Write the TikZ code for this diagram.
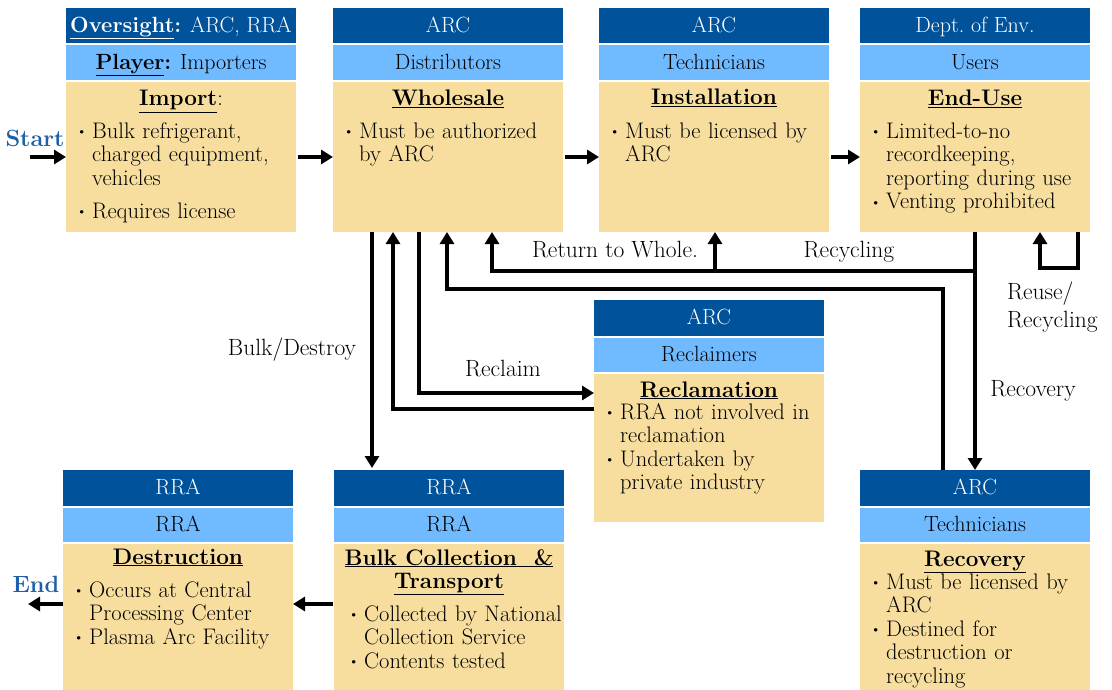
\documentclass[tikz,border=0pt]{standalone}
\usepackage{fontspec}
\usetikzlibrary{arrows.meta}

\definecolor{agencyblue}{RGB}{0,82,155}
\definecolor{roleblue}{RGB}{112,186,255}
\definecolor{notetan}{RGB}{247,222,158}
\definecolor{flowblue}{RGB}{30,95,168}

\newcommand\txtfont{\fontsize{22.5}{23.5}\selectfont}
\newcommand\hdrfont{\fontsize{22}{24}\selectfont}
\newcommand\lblfont{\fontsize{23.5}{26}\selectfont}
% one bullet item with hanging indent
\newcommand\bul[1]{\par\noindent\hangindent=18pt\hangafter=1\makebox[18pt][l]{\hspace{2pt}\raisebox{1.5pt}{\scalebox{0.7}{\textbullet}}}\strut#1\par}
% the three stacked cells of a stage: agency, role, notes
\newcommand\stagecells[6]{%
  \node[agencycell] (#1-h) at (#2,#3) {#5};
  \node[rolecell] (#1-r) at (#2,#3+37.5) {#6};
  \node[notecell, minimum height=#4pt] (#1-b) at (#2,#3+74) {};
}

\begin{document}
\begin{tikzpicture}[x=1pt,y=-1pt,
  cell/.style={anchor=north west, minimum width=230pt, inner sep=0pt, outer sep=0pt, draw=none,
               font=\hdrfont, text height=17pt, text depth=3pt},
  agencycell/.style={cell, fill=agencyblue, text=white, minimum height=35.5pt},
  rolecell/.style={cell, fill=roleblue, text=black, minimum height=34.5pt},
  notecell/.style={cell, fill=notetan},
  heading/.style={inner sep=0pt, font=\txtfont, text height=17pt, text depth=3pt},
  notes/.style={anchor=north west, inner sep=0pt, text width=222pt, font=\txtfont,
                execute at begin node={\raggedright}},
  lbl/.style={inner sep=0pt, font=\lblfont, text height=17pt, text depth=3pt},
  flowlbl/.style={lbl, font=\lblfont\bfseries, text=flowblue},
  flow/.style={line width=4pt, -{Triangle[width=14pt,length=12pt]}},
]
\useasboundingbox (0,0) rectangle (1112,690);

% ---- stages ----
\stagecells{b1}{66}{8}{150}{\underline{\textbf{Oversight}}\textbf{:} ARC, RRA}{\underline{\textbf{Player}}\textbf{:} Importers}
\stagecells{b2}{333}{8}{150}{ARC}{Distributors}
\stagecells{b3}{599}{8}{150}{ARC}{Technicians}
\stagecells{b4}{860}{8}{150}{Dept.\ of Env.}{Users}
\stagecells{b5}{594}{300}{148}{ARC}{Reclaimers}
\stagecells{b6}{63}{470}{146}{RRA}{RRA}
\stagecells{b7}{334}{470}{146}{RRA}{RRA}
\stagecells{b8}{860}{470}{146}{ARC}{Technicians}

% ---- headings ----
\node[heading] (b1-t) at (181,99) {\underline{\textbf{Import}}:};
\node[heading] (b2-t) at (448,99) {\underline{\textbf{Wholesale}}};
\node[heading] (b3-t) at (714,98) {\underline{\textbf{Installation}}};
\node[heading] (b4-t) at (975,99) {\underline{\textbf{End-Use}}};
\node[heading] (b5-t) at (709,390) {\underline{\textbf{Reclamation}}};
\node[heading] (b6-t) at (178,557) {\underline{\textbf{Destruction}}};
\node[heading] (b7-t) at (449,558) {\underline{\textbf{Bulk Collection~ \&}}};
\node[heading] (b7-t2) at (449,581) {\underline{\textbf{Transport}}};
\node[heading] (b8-t) at (975,559) {\underline{\textbf{Recovery}}};

% ---- notes ----
\node[notes] (b1-n) at (74,114.5) {\bul{Bulk refrigerant,\newline charged equipment,\newline vehicles}\vspace{9.5pt}\bul{Requires license}};
\node[notes] (b2-n) at (341,114.5) {\bul{Must be authorized\newline by ARC}};
\node[notes] (b3-n) at (607,114.5) {\bul{Must be licensed by\newline ARC}};
\node[notes] (b4-n) at (868,114.5) {\bul{Limited-to-no\newline recordkeeping,\newline reporting during use}\bul{Venting prohibited}};
\node[notes] (b5-n) at (602,395.5) {\bul{RRA not involved in\newline reclamation}\bul{Undertaken by\newline private industry}};
\node[notes] (b6-n) at (71,573.5) {\bul{Occurs at Central\newline Processing Center}\bul{Plasma Arc Facility}};
\node[notes] (b7-n) at (346,597.5) {\bul{Collected by National\newline Collection Service}\bul{Contents tested}};
\node[notes] (b8-n) at (868,565.5) {\bul{Must be licensed by\newline ARC}\bul{Destined for\newline destruction or\newline recycling}};

% ---- flow labels ----
\node[flowlbl] (startlbl) at (35,140) {Start};
\node[flowlbl] (endlbl) at (36,585) {End};
\node[lbl] (l-ret) at (615,251) {Return to Whole.};
\node[lbl] (l-recyc) at (849,251) {Recycling};
\node[lbl] (l-bulk) at (292,348) {Bulk/Destroy};
\node[lbl] (l-recl) at (503,369) {Reclaim};
\node[lbl] (l-recov) at (1033,389) {Recovery};
\node[lbl, anchor=west] (l-reuse) at (1007,292) {Reuse/};
\node[lbl, anchor=west] (l-reuse2) at (1007,320) {Recycling};

% ---- connector positions ----
\coordinate (rowmid) at (0,157);
\coordinate (startpt) at (30,157);
\coordinate (botmid) at (0,604);
\coordinate (endpt) at (28,604);
\coordinate (xbulk) at (372,0);
\coordinate (xback) at (393,0);
\coordinate (yback) at (0,409);
\coordinate (xrecl) at (419,0);
\coordinate (yrecl) at (0,393);
\coordinate (krec) at (447,289);
\coordinate (xrecup) at (943,0);
\coordinate (xuse) at (975,0);
\coordinate (kret) at (975,271);
\coordinate (kwhole) at (492,271);
\coordinate (kinst) at (715,271);
\coordinate (xloop) at (1078,0);
\coordinate (kloop) at (1040,268);

% ---- main chain ----
\draw[flow] (startpt) -- (b1-b.west |- startpt);
\draw[flow, shorten <=2pt] (b1-b.east |- rowmid) -- (b2-b.west |- rowmid);
\draw[flow, shorten <=2pt] (b2-b.east |- rowmid) -- (b3-b.west |- rowmid);
\draw[flow, shorten <=2pt] (b3-b.east |- rowmid) -- (b4-b.west |- rowmid);
\draw[flow, shorten <=1pt] (b7-b.west |- botmid) -- (b6-b.east |- botmid);
\draw[flow] (b6-b.west |- endpt) -- (endpt);

% ---- branches ----
\draw[flow, shorten >=2pt] (b2-b.south -| xbulk) -- (b7-h.north -| xbulk);
\draw[flow] (b5-b.west |- yback) -| (b2-b.south -| xback);
\draw[flow] (b2-b.south -| xrecl) |- (b5-b.west |- yrecl);
\draw[flow] (b8-h.north -| xrecup) |- (krec) -- (b2-b.south -| krec);
\draw[flow] (b4-b.south -| xuse) -- (b8-h.north -| xuse);
\draw[flow] (kret) -- (kwhole) -- (b2-b.south -| kwhole);
\draw[flow] (kinst) -- (b3-b.south -| kinst);
\draw[flow] (b4-b.south -| xloop) |- (kloop) -- (b4-b.south -| kloop);
\end{tikzpicture}
\end{document}
